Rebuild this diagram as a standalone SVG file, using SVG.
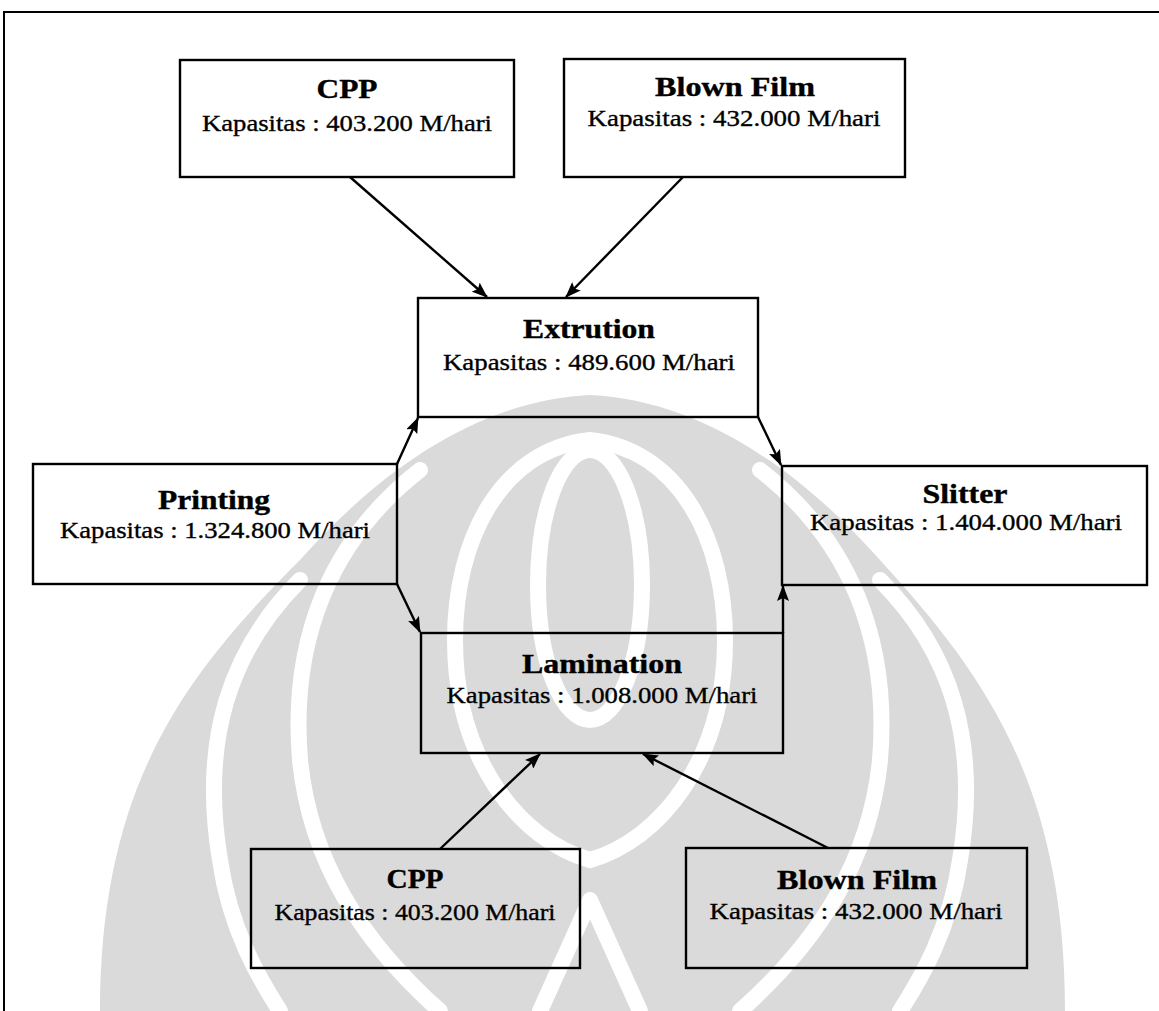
<svg xmlns="http://www.w3.org/2000/svg" width="1159" height="1011" viewBox="0 0 1159 1011">
  <defs>
    <style>
      .box { fill: none; stroke: #000; stroke-width: 2.4; }
      .edge { fill: none; stroke: #000; stroke-width: 2.4; }
      .title { font-family: "Liberation Serif", "Times New Roman", serif; font-weight: bold; font-size: 28px; fill: #000; stroke: #000; stroke-width: 0.4; text-anchor: middle; }
      .cap { font-family: "Liberation Serif", "Times New Roman", serif; font-size: 23px; fill: #000; stroke: #000; stroke-width: 0.35; text-anchor: middle; }
      .wm { fill: #dadada; }
      .wmcut { fill: none; stroke: #fff; stroke-linecap: round; }
    </style>
    <marker id="arrow" viewBox="0 0 16 12" refX="15" refY="6" markerWidth="16" markerHeight="12" markerUnits="userSpaceOnUse" orient="auto">
      <path d="M0,0 L16,6 L0,12 L3,6 Z" fill="#000"/>
    </marker>
  </defs>

  <rect x="0" y="0" width="1159" height="1011" fill="#fff"/>

  <!-- background emblem -->
  <g id="emblem">
    <path class="wm" d="M590,395 C700,400 800,470 880,560 C980,670 1065,780 1065,1011 L100,1011 C100,780 190,670 300,560 C380,470 480,400 590,395 Z"/>
    <g class="wmcut" stroke-width="16">
      <ellipse cx="590" cy="585" rx="52" ry="135"/>
      <path d="M590,440 C500,450 455,540 455,640 C455,760 520,840 590,860 C660,840 725,760 725,640 C725,540 680,450 590,440 Z"/>
      <path d="M420,470 C330,540 290,640 300,760 C310,860 360,940 440,1011"/>
      <path d="M760,470 C850,540 890,640 880,760 C870,860 820,940 740,1011"/>
      <path d="M300,580 C230,650 200,740 220,860 C230,930 260,980 280,1011"/>
      <path d="M880,580 C950,650 980,740 960,860 C950,930 920,980 900,1011"/>
      <path d="M590,900 L540,1011 M590,900 L640,1011"/>
    </g>
  </g>

  <!-- page frame -->
  <path d="M4,1011 L4,12 L1159,12" fill="none" stroke="#000" stroke-width="2"/>

  <g id="connectors">
    <line class="edge" x1="350" y1="177" x2="487" y2="297" marker-end="url(#arrow)"/>
    <line class="edge" x1="683" y1="177" x2="566" y2="297" marker-end="url(#arrow)"/>
    <line class="edge" x1="397" y1="464" x2="418" y2="418" marker-end="url(#arrow)"/>
    <line class="edge" x1="397" y1="584" x2="420" y2="632" marker-end="url(#arrow)"/>
    <line class="edge" x1="758" y1="417" x2="781" y2="465" marker-end="url(#arrow)"/>
    <line class="edge" x1="783" y1="633" x2="783" y2="586" marker-end="url(#arrow)"/>
    <line class="edge" x1="440" y1="849" x2="540" y2="754" marker-end="url(#arrow)"/>
    <line class="edge" x1="828" y1="848" x2="643" y2="754" marker-end="url(#arrow)"/>
  </g>

  <g id="cpp-top">
    <rect class="box" x="180" y="60" width="334" height="117"/>
    <text class="title" x="347" y="98" textLength="61" lengthAdjust="spacingAndGlyphs">CPP</text>
    <text class="cap" x="347" y="131" textLength="290" lengthAdjust="spacingAndGlyphs">Kapasitas : 403.200 M/hari</text>
  </g>

  <g id="blown-film-top">
    <rect class="box" x="564" y="59" width="341" height="118"/>
    <text class="title" x="735" y="96" textLength="160" lengthAdjust="spacingAndGlyphs">Blown Film</text>
    <text class="cap" x="734" y="126" textLength="293" lengthAdjust="spacingAndGlyphs">Kapasitas : 432.000 M/hari</text>
  </g>

  <g id="extrution">
    <rect class="box" x="418" y="298" width="340" height="119"/>
    <text class="title" x="589" y="338" textLength="132" lengthAdjust="spacingAndGlyphs">Extrution</text>
    <text class="cap" x="589" y="370" textLength="292" lengthAdjust="spacingAndGlyphs">Kapasitas : 489.600 M/hari</text>
  </g>

  <g id="printing">
    <rect class="box" x="33" y="464" width="364" height="120"/>
    <text class="title" x="214" y="509" textLength="112" lengthAdjust="spacingAndGlyphs">Printing</text>
    <text class="cap" x="215" y="538" textLength="310" lengthAdjust="spacingAndGlyphs">Kapasitas : 1.324.800 M/hari</text>
  </g>

  <g id="slitter">
    <rect class="box" x="782" y="466" width="365" height="119"/>
    <text class="title" x="965" y="503" textLength="85" lengthAdjust="spacingAndGlyphs">Slitter</text>
    <text class="cap" x="966" y="530" textLength="312" lengthAdjust="spacingAndGlyphs">Kapasitas : 1.404.000 M/hari</text>
  </g>

  <g id="lamination">
    <rect class="box" x="421" y="633" width="362" height="120"/>
    <text class="title" x="602" y="673" textLength="160" lengthAdjust="spacingAndGlyphs">Lamination</text>
    <text class="cap" x="602" y="703" textLength="311" lengthAdjust="spacingAndGlyphs">Kapasitas : 1.008.000 M/hari</text>
  </g>

  <g id="cpp-bottom">
    <rect class="box" x="251" y="849" width="329" height="119"/>
    <text class="title" x="415" y="888" textLength="57" lengthAdjust="spacingAndGlyphs">CPP</text>
    <text class="cap" x="415" y="920" textLength="281" lengthAdjust="spacingAndGlyphs">Kapasitas : 403.200 M/hari</text>
  </g>

  <g id="blown-film-bottom">
    <rect class="box" x="686" y="848" width="341" height="120"/>
    <text class="title" x="857" y="889" textLength="160" lengthAdjust="spacingAndGlyphs">Blown Film</text>
    <text class="cap" x="856" y="919" textLength="293" lengthAdjust="spacingAndGlyphs">Kapasitas : 432.000 M/hari</text>
  </g>
</svg>
